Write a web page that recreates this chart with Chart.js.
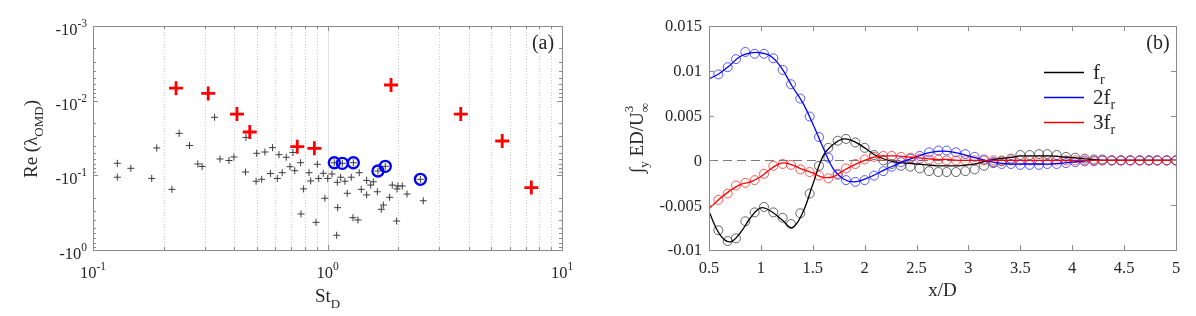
<!DOCTYPE html>
<html><head><meta charset="utf-8">
<script src="https://cdn.jsdelivr.net/npm/chart.js@4.4.1/dist/chart.umd.min.js"></script>
<style>
html,body{margin:0;padding:0;background:#fff;width:1196px;height:316px;overflow:hidden}
#wa{position:absolute;left:0;top:0;width:600px;height:316px}
#wb{position:absolute;left:600px;top:0;width:596px;height:316px}
</style></head><body>
<div id="wa"><canvas id="ca"></canvas></div>
<div id="wb"><canvas id="cb"></canvas></div>
<script>
// ---------- Panel (a) data ----------
const blackSt = [0.127,0.127,0.145,0.178,0.187,0.217,0.233,0.258,0.280,0.292,0.330,0.348,0.380,0.399,0.449,0.447,0.499,0.496,0.524,0.541,0.571,0.583,0.621,0.611,0.667,0.641,0.692,0.712,0.725,0.768,0.905,0.771,0.834,0.848,0.791,0.917,0.959,1.002,1.045,1.101,1.138,1.187,1.263,1.366,0.975,0.893,1.105,1.214,1.094,1.284,1.349,1.393,1.469,1.469,1.528,1.568,1.631,1.696,1.730,1.841,1.889,1.978,1.997,2.084,2.183,1.972,2.561,1.069,1.157,1.289,1.641,1.764,2.490];
const blackRe = [-0.0690,-0.106,-0.0805,-0.110,-0.0430,-0.154,-0.0274,-0.0398,-0.0705,-0.0761,-0.0167,-0.0604,-0.0633,-0.0568,-0.0311,-0.0902,-0.0507,-0.120,-0.113,-0.0487,-0.0945,-0.0426,-0.0529,-0.110,-0.0573,-0.0922,-0.0766,-0.0494,-0.0867,-0.0677,-0.0712,-0.329,-0.0922,-0.119,-0.152,-0.110,-0.0939,-0.110,-0.0959,-0.124,-0.106,-0.120,-0.106,-0.0922,-0.203,-0.426,-0.271,-0.174,-0.635,-0.369,-0.396,-0.154,-0.117,-0.183,-0.135,-0.122,-0.166,-0.285,-0.250,-0.197,-0.135,-0.152,-0.139,-0.139,-0.178,-0.409,-0.219,-0.0678,-0.0690,-0.0678,-0.0875,-0.0757,-0.113];
const blueSt = [1.069,1.157,1.289,1.641,1.764,2.490];
const blueRe = [-0.0678,-0.0690,-0.0678,-0.0875,-0.0757,-0.113];
const redSt = [0.226,0.310,0.411,0.466,0.743,0.879,1.866,3.70,5.56,7.40];
const redRe = [-0.0068,-0.0080,-0.0151,-0.0263,-0.0413,-0.0435,-0.00617,-0.0151,-0.0347,-0.146];
const xTicksA = [0.1,1,10];
const xTickLabelsA = [['10','-1'],['10','0'],['10','1']];
const xMinorA = [0.2,0.3,0.4,0.5,0.6,0.7,0.8,0.9,2,3,4,5,6,7,8,9];
const yTicksA = [0.001,0.01,0.1,1];
const yTickLabelsA = [['-10','-3'],['-10','-2'],['-10','-1'],['-10','0']];
const yMinorA = [0.002,0.003,0.004,0.005,0.006,0.007,0.008,0.009,0.02,0.03,0.04,0.05,0.06,0.07,0.08,0.09,0.2,0.3,0.4,0.5,0.6,0.7,0.8,0.9];

// ---------- Panel (b) data ----------
const xLine = [0.5,0.6,0.7,0.8,0.9,1.0,1.1,1.2,1.3,1.4,1.5,1.6,1.7,1.8,1.9,2.0,2.1,2.2,2.3,2.4,2.5,2.6,2.7,2.8,2.9,3.0,3.1,3.2,3.3,3.4,3.5,3.6,3.7,3.8,3.9,4.0,4.1,4.2,4.3,4.4,4.5,4.6,4.7,4.8,4.9,5.0];
const frLine = [-0.0057,-0.0082,-0.0091,-0.0081,-0.0064,-0.0053,-0.0057,-0.0066,-0.0075,-0.0059,-0.0027,0.0005,0.0018,0.0024,0.0021,0.0014,0.0006,0.0001,-0.0002,-0.0003,-0.0004,-0.0005,-0.0006,-0.0006,-0.0006,-0.0005,-0.0003,0.0000,0.0002,0.0003,0.0005,0.0005,0.0005,0.0005,0.0004,0.0003,0.0002,0.0001,0,0,0,0,0,0,0,0];
const f2Line = [0.0091,0.0097,0.0106,0.0116,0.0120,0.0120,0.0116,0.0103,0.0083,0.0065,0.0041,0.0014,-0.0010,-0.0021,-0.0024,-0.0021,-0.0016,-0.0010,-0.0005,0.0000,0.0004,0.0008,0.0010,0.0010,0.0008,0.0005,0.0002,-0.0001,-0.0003,-0.0004,-0.0004,-0.0004,-0.0004,-0.0004,-0.0003,-0.0002,-0.0001,0,0,0,0,0,0,0,0,0];
const f3Line = [-0.0054,-0.0043,-0.0034,-0.0027,-0.0024,-0.0018,-0.0009,-0.0003,-0.0005,-0.0010,-0.0014,-0.0019,-0.0018,-0.0011,-0.0005,0.0000,0.0004,0.0005,0.0005,0.0004,0.0003,0.0002,0.0001,0.0001,0,0,0,0,0,0,0,0,0,0,0,0,0,0,0,0,0,0,0,0,0,0];
const xMark = [0.59,0.68,0.76,0.85,0.94,1.03,1.12,1.21,1.29,1.38,1.47,1.56,1.65,1.74,1.82,1.91,2.00,2.09,2.18,2.26,2.35,2.44,2.53,2.62,2.71,2.79,2.88,2.97,3.06,3.15,3.24,3.32,3.41,3.50,3.59,3.68,3.76,3.85,3.94,4.03,4.12,4.21,4.29,4.38,4.47,4.56,4.65,4.74,4.82,4.91,5.00];
const frMark = [-0.0078,-0.0090,-0.0087,-0.0068,-0.0058,-0.0052,-0.0058,-0.0064,-0.0071,-0.0059,-0.0037,-0.0006,0.0014,0.0022,0.0024,0.0020,0.0014,0.0006,0.0000,-0.0004,-0.0006,-0.0007,-0.0009,-0.0012,-0.0013,-0.0013,-0.0013,-0.0012,-0.0010,-0.0006,-0.0003,-0.0001,0.0002,0.0006,0.0006,0.0007,0.0007,0.0006,0.0004,0.0003,0.0002,0.0001,0.0001,0,0,0,0,0,0,0,0];
const f2Mark = [0.0096,0.0104,0.0113,0.0121,0.0119,0.0119,0.0114,0.0101,0.0085,0.0069,0.0049,0.0026,0.0003,-0.0016,-0.0022,-0.0024,-0.0022,-0.0017,-0.0012,-0.0007,-0.0002,0.0002,0.0005,0.0009,0.0011,0.0011,0.0009,0.0007,0.0004,0.0001,-0.0002,-0.0004,-0.0004,-0.0005,-0.0005,-0.0005,-0.0004,-0.0004,-0.0003,-0.0002,-0.0001,-0.0001,0,0,0,0,0,0,0,0,0];
const f3Mark = [-0.0044,-0.0037,-0.0028,-0.0025,-0.0022,-0.0015,-0.0006,-0.0004,-0.0005,-0.0010,-0.0013,-0.0017,-0.0020,-0.0015,-0.0009,-0.0004,0.0001,0.0004,0.0005,0.0005,0.0004,0.0003,0.0002,0.0001,0.0001,0,0,0,0,0,0,0,0,0,0,0,0,0,0,0,0,0,0,0,0,0,0,0,0,0,0];
const xTicksB = [0.5,1,1.5,2,2.5,3,3.5,4,4.5,5];
const xTickLabelsB = ['0.5','1','1.5','2','2.5','3','3.5','4','4.5','5'];
const yTicksB = [-0.01,-0.005,0,0.005,0.01,0.015];
const yTickLabelsB = ['-0.01','-0.005','0','0.005','0.01','0.015'];
const legendLabels = [['f','r'],['2f','r'],['3f','r']];
const seriesColors = ['rgb(0,0,0)','rgb(0,0,255)','rgb(255,0,0)'];

// ---------- helpers ----------
const FONT = '"Liberation Serif","Times New Roman",serif';
const TXT = '#262626';
const AXC = '#8a8a8a';

function drawRich(ctx, segs, x, y, align){
  const m = segs.map(s => { ctx.font = s.sz + 'px ' + FONT; return ctx.measureText(s.t).width; });
  let w = 0; segs.forEach((s,i)=>{ if(!s.stack) w += m[i]; });
  let cx = align==='center' ? x - w/2 : align==='right' ? x - w : x;
  ctx.textAlign='left'; ctx.textBaseline='alphabetic';
  segs.forEach((s,i)=>{ ctx.font = s.sz+'px '+FONT; ctx.fillText(s.t, cx, y + (s.dy||0)); if(!s.stack) cx += m[i]; });
}
function seg(ctx,x1,y1,x2,y2){ ctx.beginPath(); ctx.moveTo(x1,y1); ctx.lineTo(x2,y2); ctx.stroke(); }
function pts(xs, ys, neg){ return xs.map((x,i)=>({x:x, y: neg ? -ys[i] : ys[i]})); }

// ---------- Panel (a) ----------
const plugA = {
  id:'plugA',
  beforeDatasetsDraw(chart){
    const {ctx, chartArea:a, scales:{x}} = chart;
    ctx.save(); ctx.lineWidth = 1;
    ctx.strokeStyle = '#cfcfcf'; ctx.setLineDash([1,2]);
    xMinorA.forEach(v=>{ const p = Math.round(x.getPixelForValue(v))+0.5; seg(ctx,p,a.top,p,a.bottom); });
    ctx.setLineDash([]); ctx.strokeStyle = '#e2e2e2';
    const p1 = Math.round(x.getPixelForValue(1))+0.5; seg(ctx,p1,a.top,p1,a.bottom);
    ctx.restore();
  },
  afterDraw(chart){
    const {ctx, chartArea:a, scales:{x,y}} = chart;
    ctx.save();
    ctx.strokeStyle = AXC; ctx.lineWidth = 1;
    ctx.strokeRect(Math.round(a.left)+0.5, Math.round(a.top)+0.5, Math.round(a.right-a.left), Math.round(a.bottom-a.top));
    yTicksA.forEach(v=>{ const p=Math.round(y.getPixelForValue(v))+0.5; seg(ctx,a.left,p,a.left+5,p); seg(ctx,a.right,p,a.right-5,p); });
    yMinorA.forEach(v=>{ const p=Math.round(y.getPixelForValue(v))+0.5; seg(ctx,a.left,p,a.left+3,p); seg(ctx,a.right,p,a.right-3,p); });
    xMinorA.forEach(v=>{ const p=Math.round(x.getPixelForValue(v))+0.5; seg(ctx,p,a.bottom,p,a.bottom-3); seg(ctx,p,a.top,p,a.top+3); });
    xTicksA.forEach(v=>{ const p=Math.round(x.getPixelForValue(v))+0.5; seg(ctx,p,a.bottom,p,a.bottom-5); seg(ctx,p,a.top,p,a.top+5); });
    ctx.fillStyle = TXT;
    yTicksA.forEach((v,i)=>{ const p=y.getPixelForValue(v);
      drawRich(ctx,[{t:yTickLabelsA[i][0],sz:16.5,dy:9},{t:yTickLabelsA[i][1],sz:11.5,dy:1}], a.left-6, p, 'right'); });
    xTicksA.forEach((v,i)=>{ const p=x.getPixelForValue(v);
      drawRich(ctx,[{t:xTickLabelsA[i][0],sz:16.5,dy:0},{t:xTickLabelsA[i][1],sz:11.5,dy:-8}], p, a.bottom+28, 'center'); });
    drawRich(ctx,[{t:'St',sz:19},{t:'D',sz:13,dy:6}], (a.left+a.right)/2, a.bottom+52, 'center');
    ctx.save(); ctx.translate(a.left-56, (a.top+a.bottom)/2+1); ctx.rotate(-Math.PI/2);
    drawRich(ctx,[{t:'Re (λ',sz:19},{t:'OMD',sz:13,dy:6},{t:')',sz:19}],0,0,'center');
    ctx.restore();
    drawRich(ctx,[{t:'(a)',sz:20}], a.right-19, a.top+23, 'center');
    ctx.restore();
  }
};

new Chart(document.getElementById('ca'), {
  type:'scatter',
  data:{datasets:[
    {data:pts(redSt,redRe,true), pointStyle:'cross', pointRadius:7, borderColor:'#ff0000', borderWidth:2.8, backgroundColor:'#ff0000'},
    {data:pts(blueSt,blueRe,true), pointStyle:'circle', pointRadius:5.5, borderColor:'#0000ff', borderWidth:2.3, backgroundColor:'rgba(0,0,0,0)'},
    {data:pts(blackSt,blackRe,true), pointStyle:'cross', pointRadius:3.5, borderColor:'#3c3c3c', borderWidth:1, backgroundColor:'#3c3c3c'}
  ]},
  options:{
    responsive:true, maintainAspectRatio:false, animation:false, events:[],
    layout:{autoPadding:false, padding:{left:0,top:26,right:38,bottom:0}},
    plugins:{legend:{display:false}, tooltip:{enabled:false}},
    scales:{
      x:{type:'logarithmic', min:0.1, max:10, ticks:{display:false}, grid:{display:false}, border:{display:false}, afterFit(s){s.height=66;}},
      y:{type:'logarithmic', reverse:true, min:0.001, max:1, ticks:{display:false}, grid:{display:false}, border:{display:false}, afterFit(s){s.width=93;}}
    }
  },
  plugins:[plugA]
});

// ---------- Panel (b) ----------
const plugB = {
  id:'plugB',
  beforeDatasetsDraw(chart){
    const {ctx, chartArea:a, scales:{y}} = chart;
    ctx.save(); ctx.strokeStyle='#7a7a7a'; ctx.lineWidth=1; ctx.setLineDash([9,5]);
    const p=Math.round(y.getPixelForValue(0))+0.5; seg(ctx,a.left,p,a.right,p);
    ctx.restore();
  },
  afterDraw(chart){
    const {ctx, chartArea:a, scales:{x,y}} = chart;
    ctx.save();
    ctx.setLineDash([]);
    ctx.strokeStyle = AXC; ctx.lineWidth = 1;
    ctx.strokeRect(Math.round(a.left)+0.5, Math.round(a.top)+0.5, Math.round(a.right-a.left), Math.round(a.bottom-a.top));
    xTicksB.forEach(v=>{ const p=Math.round(x.getPixelForValue(v))+0.5; seg(ctx,p,a.bottom,p,a.bottom-5); seg(ctx,p,a.top,p,a.top+5); });
    yTicksB.forEach(v=>{ const p=Math.round(y.getPixelForValue(v))+0.5; seg(ctx,a.left,p,a.left+5,p); seg(ctx,a.right,p,a.right-5,p); });
    ctx.fillStyle = TXT;
    ctx.font = '16.5px '+FONT;
    ctx.textAlign='right'; ctx.textBaseline='middle';
    yTicksB.forEach((v,i)=>{ ctx.fillText(yTickLabelsB[i], a.left-7, y.getPixelForValue(v)+1); });
    ctx.textAlign='center'; ctx.textBaseline='alphabetic';
    xTicksB.forEach((v,i)=>{ ctx.fillText(xTickLabelsB[i], x.getPixelForValue(v), a.bottom+23); });
    drawRich(ctx,[{t:'x/D',sz:19}], (a.left+a.right)/2, a.bottom+46, 'center');
    ctx.save(); ctx.translate(a.left-66, (a.top+a.bottom)/2); ctx.rotate(-Math.PI/2);
    drawRich(ctx,[{t:'∫',sz:19},{t:'y',sz:13,dy:5},{t:' ED/U',sz:19},{t:'3',sz:13,dy:-10,stack:true},{t:'∞',sz:13,dy:6}],0,0,'center');
    ctx.restore();
    drawRich(ctx,[{t:'(b)',sz:20}], a.right-18, a.top+23, 'center');
    ctx.restore();
    // legend
    legendLabels.forEach((lab,i)=>{
      const ly = Math.round(a.top + 46 + i*25) + 0.5;
      ctx.save();
      ctx.setLineDash([]);
      ctx.lineWidth = 1.4;
      ctx.strokeStyle = seriesColors[i];
      ctx.beginPath(); ctx.moveTo(a.right-132, ly); ctx.lineTo(a.right-92, ly); ctx.stroke();
      ctx.restore();
      ctx.save();
      ctx.fillStyle = TXT;
      drawRich(ctx,[{t:lab[0],sz:21},{t:lab[1],sz:14,dy:5}], a.right-83, ly+6, 'left');
      ctx.restore();
    });
  }
};

const lineDs = (ys,c)=>({data:pts(xLine,ys,false), showLine:true, tension:0.4, pointRadius:0, borderColor:c, borderWidth:1.3, backgroundColor:c, fill:false});
const markDs = (ys,c)=>({data:pts(xMark,ys,false), showLine:false, pointStyle:'circle', pointRadius:4.5, borderColor:c, borderWidth:0.8, backgroundColor:'rgba(0,0,0,0)'});

new Chart(document.getElementById('cb'), {
  type:'scatter',
  data:{datasets:[
    lineDs(f3Line,'#ff0000'), lineDs(f2Line,'#0000ff'), lineDs(frLine,'#000000'),
    markDs(f3Mark,'#ff3030'), markDs(f2Mark,'#3030ff'), markDs(frMark,'#404040')
  ]},
  options:{
    responsive:true, maintainAspectRatio:false, animation:false, events:[],
    layout:{autoPadding:false, padding:{left:0,top:26,right:20,bottom:0}},
    plugins:{legend:{display:false}, tooltip:{enabled:false}},
    scales:{
      x:{type:'linear', min:0.5, max:5, ticks:{display:false}, grid:{display:false}, border:{display:false}, afterFit(s){s.height=66;}},
      y:{type:'linear', min:-0.01, max:0.015, ticks:{display:false}, grid:{display:false}, border:{display:false}, afterFit(s){s.width=109;}}
    }
  },
  plugins:[plugB]
});
</script>
</body></html>
